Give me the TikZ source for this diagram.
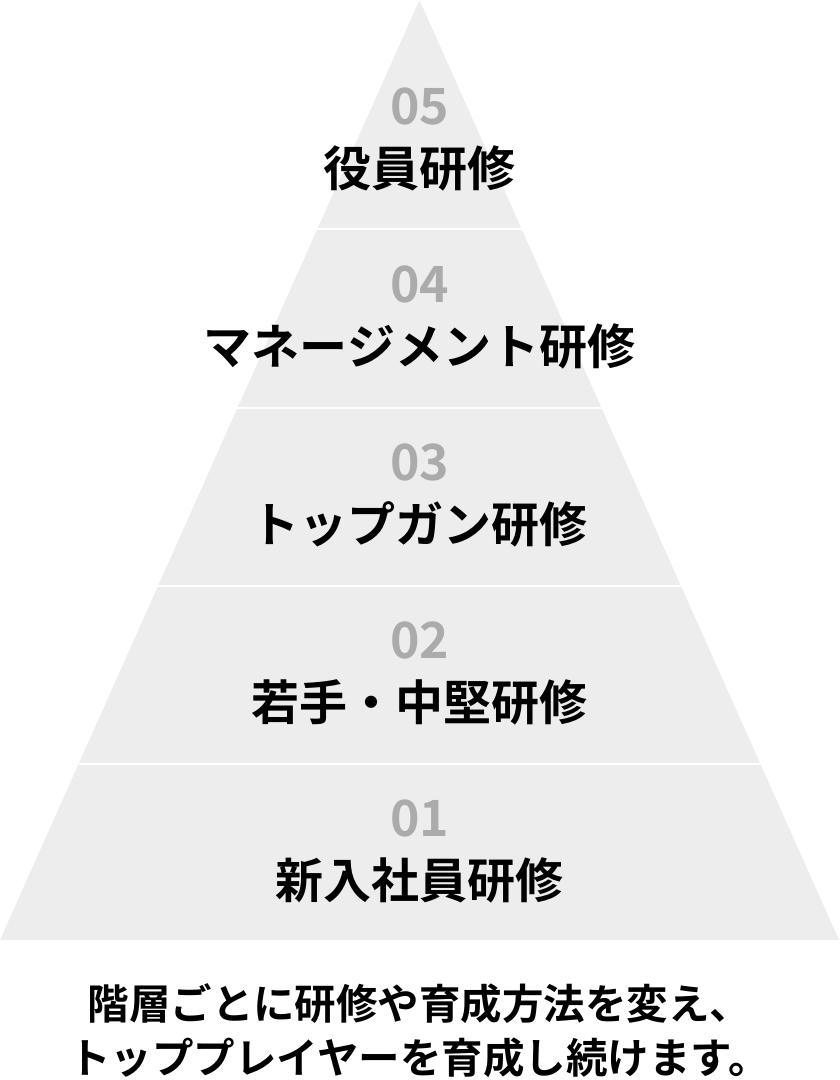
\documentclass[tikz,border=0pt]{standalone}
\usepackage{fontspec}
\newfontfamily\jp{Noto Sans CJK JP}[BoldFont=* Bold]
\definecolor{band}{HTML}{EDEDED}
\definecolor{numgray}{HTML}{ABABAB}
\begin{document}
\begin{tikzpicture}[x=1pt,y=-1pt,
  numlabel/.style={inner sep=0pt,font=\jp\bfseries\fontsize{50}{50}\selectfont,text=numgray},
  steplabel/.style={inner sep=0pt,font=\jp\bfseries\fontsize{48}{48}\selectfont,text=black},
  captxt/.style={inner sep=0pt,font=\jp\bfseries\fontsize{41.5}{41.5}\selectfont,text=black},
  sep/.style={draw=white,line width=2.6pt}]
\useasboundingbox (0,0) rectangle (839,1080);
\fill[band] (419.5,0) -- (839,940) -- (0,940) -- cycle;
% separators
\foreach \y in {229,408,586,764} {
  \draw[sep] ({419.5-\y/940*419.5},\y) -- ({419.5+\y/940*419.5},\y);
}
\node[numlabel] (n5) at (419.5,106) {05};
\node[steplabel] (l5) at (419.5,168) {役員研修};
\node[numlabel] (n4) at (419.5,284) {04};
\node[steplabel] (l4) at (419.5,346) {マネージメント研修};
\node[numlabel] (n3) at (419.5,462) {03};
\node[steplabel] (l3) at (419.5,524) {トップガン研修};
\node[numlabel] (n2) at (419.5,640) {02};
\node[steplabel] (l2) at (419.5,702) {若手・中堅研修};
\node[numlabel] (n1) at (419.5,818) {01};
\node[steplabel] (l1) at (419.5,880) {新入社員研修};
\node[captxt] (c1) at (419.5,1004) {階層ごとに研修や育成方法を変え、};
\node[captxt] (c2) at (419.5,1058) {トッププレイヤーを育成し続けます。};
\end{tikzpicture}
\end{document}
